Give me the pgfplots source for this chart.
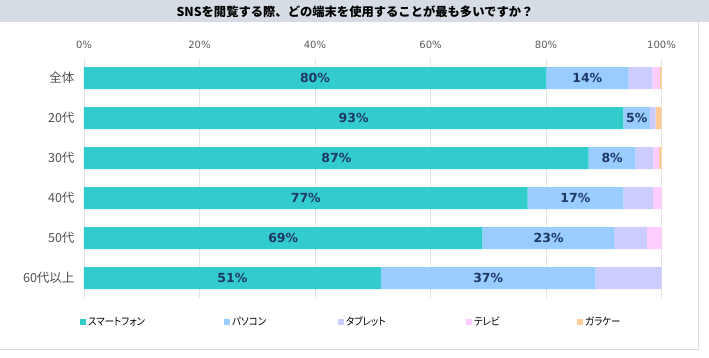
\documentclass[border=0pt]{standalone}
\usepackage{fontspec}
\setmainfont{Noto Sans CJK JP}
\newfontfamily\dejavu{DejaVu Sans}
\newfontfamily\jpcond[FakeStretch=0.9,RawFeature=+palt]{Noto Sans CJK JP}
\usepackage{pgfplots}
\pgfplotsset{compat=1.18}
\usepackage{pgfplotstable}

\definecolor{cSmart}{HTML}{33CCCC}
\definecolor{cPC}{HTML}{99CCFF}
\definecolor{cTab}{HTML}{CCCCFF}
\definecolor{cTV}{HTML}{FFCCFF}
\definecolor{cGK}{HTML}{FFCC99}
\definecolor{lblc}{HTML}{1F3864}
\definecolor{titlebg}{HTML}{D6DCE4}
\definecolor{framec}{HTML}{D9D9D9}
\definecolor{gridc}{HTML}{E3E3E3}
\definecolor{tickc}{HTML}{595959}
\definecolor{catc}{HTML}{505050}

\pgfplotstableread{
row s pc tab tv gk
0 80.0 14.3 4.1 1.3 0.3
1 93.4 4.6 1.0 0.0 1.0
2 87.4 8.1 3.1 1.0 0.4
3 76.8 16.6 5.1 1.5 0.0
4 69.0 22.9 5.6 2.5 0.0
5 51.4 37.2 11.4 0.0 0.0
}\data

\begin{document}
\begin{tikzpicture}
\useasboundingbox (0pt,0pt) rectangle (709pt,-357pt);
\fill[titlebg] (0pt,0pt) rectangle (709pt,-22pt);
\node[font=\bfseries\fontsize{12.3}{14}\selectfont] at (355pt,-11.5pt) {SNSを閲覧する際、どの端末を使用することが最も多いですか？};
\draw[framec, line width=0.8pt] (698pt,-22pt) -- (698pt,-349pt) -- (0pt,-349pt);
\begin{axis}[
  at={(84pt,-298pt)}, anchor=south west,
  scale only axis, width=577.5pt, height=240pt,
  xmin=0, xmax=100, ymin=-0.5, ymax=5.5,
  y dir=reverse,
  xbar stacked, bar width=22pt,
  axis line style={draw=none},
  major tick length=0pt,
  xmajorgrids, grid style={gridc, line width=0.8pt},
  xtick={0,20,40,60,80,100},
  xticklabels={0\%,20\%,40\%,60\%,80\%,100\%},
  xticklabel pos=upper,
  xticklabel style={font=\dejavu\fontsize{10}{12}\selectfont, text=tickc, yshift=6pt},
  ytick={0,1,2,3,4,5},
  yticklabels={全体,20代,30代,40代,50代,60代以上},
  yticklabel style={font=\fontsize{12.5}{14}\selectfont, text=catc, xshift=-6pt},
  legend columns=5,
  legend style={at={(-0.007,-0.1)}, anchor=west, draw=none, fill=none, inner sep=0pt,
    font=\jpcond\fontsize{10.5}{12}\selectfont,
    nodes={inner sep=0pt},
    /tikz/every even column/.append style={column sep=0pt},
    /tikz/every odd column/.append style={column sep=2pt}},
  legend image code/.code={\fill[#1] (0pt,-3pt) rectangle (6pt,3pt);},
]
\addplot[fill=cSmart, draw=none,
  point meta=\thisrow{s},
  nodes near coords={\pgfmathprintnumber[fixed,precision=0,assume math mode=true]{\pgfplotspointmeta}\%},
  every node near coord/.append style={anchor=center, font=\dejavu\bfseries\fontsize{12.5}{14}\selectfont, text=lblc}
  ] table[x=s, y=row]{\data};
\addplot[fill=cPC, draw=none,
  point meta=\thisrow{pc},
  nodes near coords={\pgfmathprintnumber[fixed,precision=0,assume math mode=true]{\pgfplotspointmeta}\%},
  every node near coord/.append style={anchor=center, font=\dejavu\bfseries\fontsize{12.5}{14}\selectfont, text=lblc}
  ] table[x=pc, y=row]{\data};
\addplot[fill=cTab, draw=none] table[x=tab, y=row]{\data};
\addplot[fill=cTV, draw=none] table[x=tv, y=row]{\data};
\addplot[fill=cGK, draw=none] table[x=gk, y=row]{\data};
\legend{\makebox[136pt][l]{スマートフォン},\makebox[106pt][l]{パソコン},\makebox[120pt][l]{タブレット},\makebox[103pt][l]{テレビ},ガラケー}
\end{axis}
\end{tikzpicture}
\end{document}
